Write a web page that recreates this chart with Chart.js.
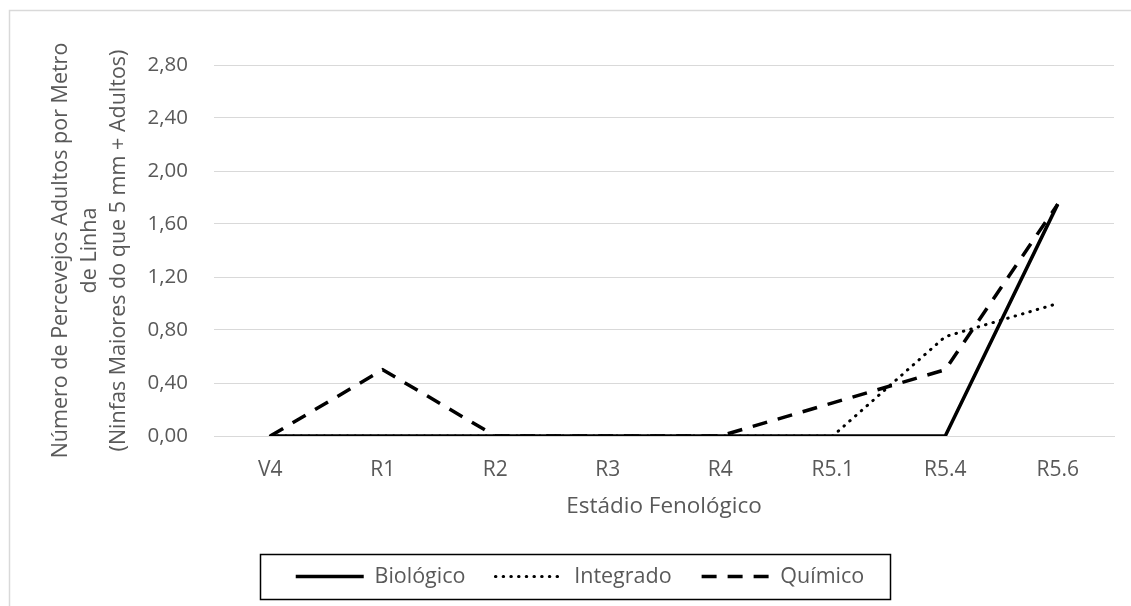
<!DOCTYPE html>
<html>
<head>
<meta charset="utf-8">
<script src="https://cdn.jsdelivr.net/npm/chart.js@4/dist/chart.umd.min.js"></script>
<style>
  html, body { margin: 0; padding: 0; background: #fff; overflow: hidden; }
  #wrap { width: 1131px; height: 606px; overflow: hidden; }
  canvas { display: block; }
</style>
</head>
<body>
<div id="wrap"><canvas id="chart" width="1131" height="640"></canvas></div>
<script>
// Phenological stages (x categories)
const stages = ['V4', 'R1', 'R2', 'R3', 'R4', 'R5.1', 'R5.4', 'R5.6'];

// Stink bugs per metre of row, per management system
const biologico = [0, 0, 0, 0, 0, 0, 0, 1.75];
const integrado = [0, 0, 0, 0, 0, 0, 0.75, 1.00];
const quimico   = [0, 0.50, 0, 0, 0, 0.25, 0.50, 1.75];

const seriesNames = ['Biológico', 'Integrado', 'Químico'];

// Y axis tick values
const yTickValues = [0, 0.4, 0.8, 1.2, 1.6, 2.0, 2.4, 2.8];

const yTitleLines = [
  'Número de Percevejos Adultos por Metro',
  'de Linha',
  '(Ninfas Maiores do que 5 mm + Adultos)'
];
const xTitle = 'Estádio Fenológico';

const TEXT = '#595959';
const GRID = '#d9d9d9';
const FONT = "'Open Sans', 'DejaVu Sans', sans-serif";

// White background and the thin outer frame of the chart
const framePlugin = {
  id: 'frame',
  beforeDraw(chart) {
    const ctx = chart.ctx;
    ctx.save();
    ctx.fillStyle = '#fff';
    ctx.fillRect(0, 0, chart.width, chart.height);
    ctx.strokeStyle = GRID;
    ctx.lineWidth = 1.5;
    ctx.strokeRect(9.5, 10.5, chart.width + 20, chart.height + 20);
    ctx.restore();
  }
};

// Black box drawn around the legend entries
const legendBoxPlugin = {
  id: 'legendBox',
  afterDraw(chart) {
    const lg = chart.legend;
    if (!lg || !lg.legendHitBoxes || !lg.legendHitBoxes.length) return;
    const boxes = lg.legendHitBoxes;
    const left = Math.min(...boxes.map(b => b.left)) - 36;
    const right = Math.max(...boxes.map(b => b.left + b.width)) + 25;
    const cy = boxes[0].top + boxes[0].height / 2;
    const ctx = chart.ctx;
    ctx.save();
    ctx.strokeStyle = '#000';
    ctx.lineWidth = 1.5;
    ctx.setLineDash([]);
    ctx.strokeRect(Math.round(left) + 0.5, Math.round(cy - 22.5) + 0.5,
                   Math.round(right - left), 45);
    ctx.restore();
  }
};

const fmt = v => Number(v).toFixed(2).replace('.', ',');

new Chart(document.getElementById('chart'), {
  type: 'line',
  data: {
    labels: stages,
    datasets: [
      {
        label: seriesNames[0],
        data: biologico,
        borderColor: '#000',
        backgroundColor: '#000',
        borderWidth: 3.5,
        borderCapStyle: 'butt'
      },
      {
        label: seriesNames[1],
        data: integrado,
        borderColor: '#000',
        backgroundColor: '#000',
        borderWidth: 3,
        borderDash: [0.5, 7.2],
        borderCapStyle: 'round'
      },
      {
        label: seriesNames[2],
        data: quimico,
        borderColor: '#000',
        backgroundColor: '#000',
        borderWidth: 3.5,
        borderDash: [15, 11],
        borderCapStyle: 'butt'
      }
    ]
  },
  options: {
    responsive: false,
    animation: false,
    devicePixelRatio: 1,
    elements: {
      point: { radius: 0, hoverRadius: 0 },
      line: { tension: 0, fill: false }
    },
    layout: { padding: { left: 46, right: 17, top: 65, bottom: 42.75 } },
    plugins: {
      tooltip: { enabled: false },
      legend: {
        display: true,
        position: 'bottom',
        labels: {
          usePointStyle: true,
          pointStyle: 'line',
          pointStyleWidth: 68,
          padding: 30,
          color: TEXT,
          font: { family: FONT, size: 21.5 },
          // keep each series' own dash pattern in its legend sample
          generateLabels(chart) {
            const items = Chart.defaults.plugins.legend.labels.generateLabels(chart);
            items.forEach(it => {
              const ds = chart.data.datasets[it.datasetIndex];
              it.lineDash = ds.borderDash || [];
              it.lineCap = ds.borderCapStyle || 'butt';
              it.lineWidth = ds.borderWidth;
              it.strokeStyle = ds.borderColor;
            });
            return items;
          }
        }
      }
    },
    scales: {
      x: {
        type: 'category',
        offset: true,
        grid: { display: false, drawTicks: false },
        border: { display: true, color: GRID, width: 1 },
        ticks: {
          color: TEXT,
          padding: 21,
          maxRotation: 0,
          autoSkip: false,
          font: { family: FONT, size: 21 }
        },
        title: {
          display: true,
          text: xTitle,
          color: TEXT,
          padding: { top: 0, bottom: 15.75 },
          font: { family: FONT, size: 22.5, lineHeight: 1.2 }
        },
        afterFit(scale) { scale.height = 99.75; }
      },
      y: {
        min: 0,
        max: 2.8,
        afterBuildTicks(scale) {
          scale.ticks = yTickValues.map(v => ({ value: v }));
        },
        grid: { color: GRID, lineWidth: 1, drawTicks: false },
        border: { display: false },
        ticks: {
          color: TEXT,
          padding: 26,
          font: { family: FONT, size: 20.5 },
          callback: v => fmt(v)
        },
        title: {
          display: true,
          text: yTitleLines,
          color: TEXT,
          padding: { top: 0, bottom: 0 },
          font: { family: FONT, size: 21.5, lineHeight: 1.36 }
        },
        afterFit(scale) { scale.width = 168; }
      }
    }
  },
  plugins: [framePlugin, legendBoxPlugin]
});
</script>
</body>
</html>
